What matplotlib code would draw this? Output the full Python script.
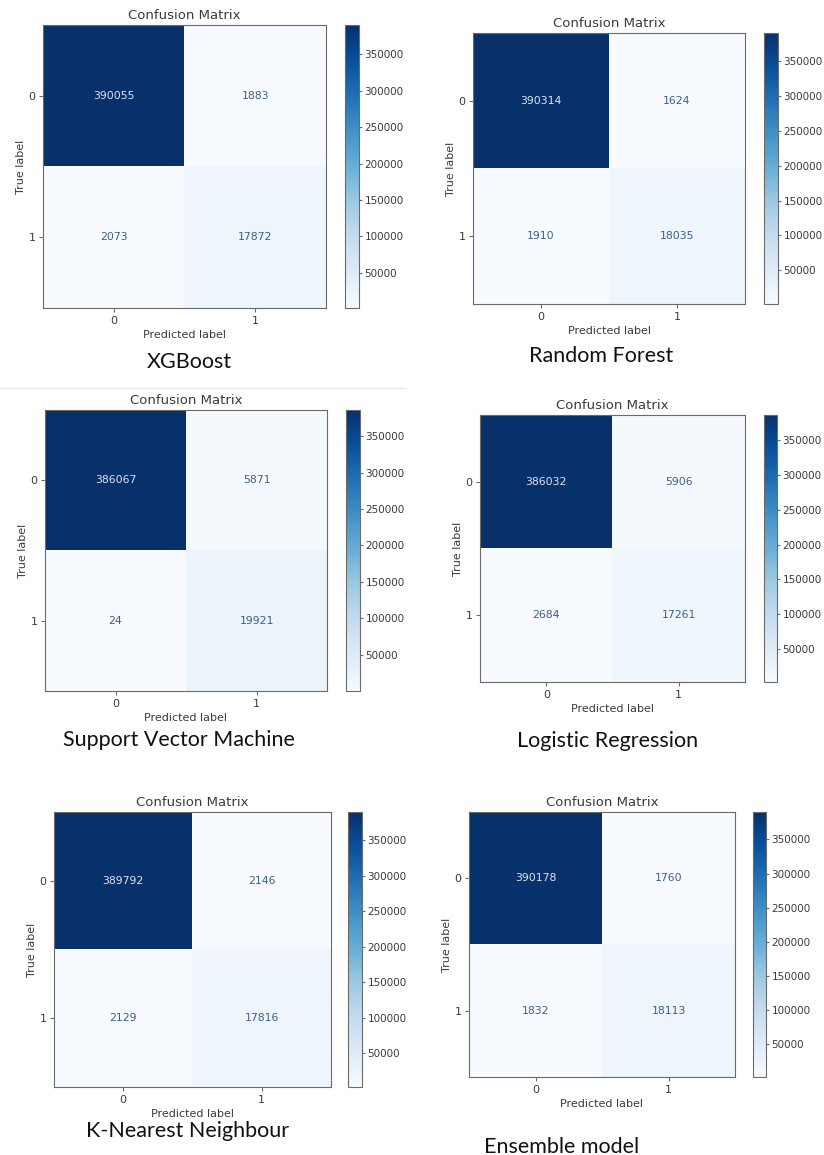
import numpy as np
import matplotlib
matplotlib.use("Agg")
import matplotlib.pyplot as plt
from matplotlib.lines import Line2D

W, H = 824, 1155

class_labels = ["0", "1"]
cbar_ticks = [50000, 100000, 150000, 200000, 250000, 300000, 350000]

model_names = ["XGBoost", "Random Forest", "Support Vector Machine",
               "Logistic Regression", "K-Nearest Neighbour", "Ensemble model"]

cm_xgb = [[390055, 1883], [2073, 17872]]
cm_rf = [[390314, 1624], [1910, 18035]]
cm_svm = [[386067, 5871], [24, 19921]]
cm_lr = [[386032, 5906], [2684, 17261]]
cm_knn = [[389792, 2146], [2129, 17816]]
cm_ens = [[390178, 1760], [1832, 18113]]

matrices = [cm_xgb, cm_rf, cm_svm, cm_lr, cm_knn, cm_ens]

# pixel boxes: (left, top, right, bottom) for heatmap, (left, right) for colorbar,
# caption centre (x, y)
ax_boxes = [(43, 25, 326, 308), (473, 33, 745, 304), (45, 410, 327, 691),
            (480, 415, 745, 682), (54, 812, 331, 1087), (469, 812, 735, 1077)]
cb_boxes = [(345, 359), (764, 778), (346, 360), (764, 777), (348, 362), (753, 766)]
captions = [(189, 362), (601, 356), (179, 740), (608, 741), (188, 1131), (562, 1147)]

TICK_GREY = "#3a3a3a"
SPINE_GREY = "#6a6a6a"


def px_rect(l, t, r, b):
    return [l / W, 1 - b / H, (r - l) / W, (b - t) / H]


def draw_cm(fig, cm, box, cb_box):
    cm = np.array(cm)
    l, t, r, b = box
    ax = fig.add_axes(px_rect(l, t, r, b))
    cax = fig.add_axes(px_rect(cb_box[0], t, cb_box[1], b))

    im = ax.imshow(cm, cmap="Blues", vmin=cm.min(), vmax=cm.max(),
                   aspect="auto", interpolation="nearest")
    thresh = (cm.max() + cm.min()) / 2.0
    for i in range(cm.shape[0]):
        for j in range(cm.shape[1]):
            color = "#dce5f0" if cm[i, j] > thresh else "#3d5d8e"
            ax.text(j, i, str(cm[i, j]), ha="center", va="center",
                    color=color, fontsize=7.8)

    ax.set_xticks(range(len(class_labels)))
    ax.set_yticks(range(len(class_labels)))
    ax.set_xticklabels(class_labels)
    ax.set_yticklabels(class_labels)
    ax.set_xlabel("Predicted label", fontsize=8, color=TICK_GREY, labelpad=3)
    ax.set_ylabel("True label", fontsize=8, color=TICK_GREY, labelpad=2)
    ax.set_title("Confusion Matrix", fontsize=9.5, color=TICK_GREY, pad=4)
    ax.tick_params(labelsize=8, colors=TICK_GREY, length=3, pad=2.5,
                   color=SPINE_GREY)
    for sp in ax.spines.values():
        sp.set_color(SPINE_GREY)

    cb = fig.colorbar(im, cax=cax)
    cb.set_ticks(cbar_ticks)
    cb.ax.tick_params(labelsize=7.5, colors=TICK_GREY, length=2.5, pad=1.5,
                      color=SPINE_GREY)
    cb.outline.set_edgecolor(SPINE_GREY)
    return ax


fig = plt.figure(figsize=(W / 100, H / 100), dpi=100)
fig.patch.set_facecolor("white")

for cm, box, cb_box, cap, name in zip(matrices, ax_boxes, cb_boxes, captions, model_names):
    draw_cm(fig, cm, box, cb_box)
    fig.text(cap[0] / W, 1 - cap[1] / H, name, ha="center", va="center",
             fontsize=15.5, family=["Lato", "DejaVu Sans"], color="#111111")

# faint separator between the first two rows on the left
fig.add_artist(Line2D([0, 405 / W], [1 - 388 / H, 1 - 388 / H],
                      color="#e8e8e8", lw=1))

fig.savefig("out.png", dpi=100)
